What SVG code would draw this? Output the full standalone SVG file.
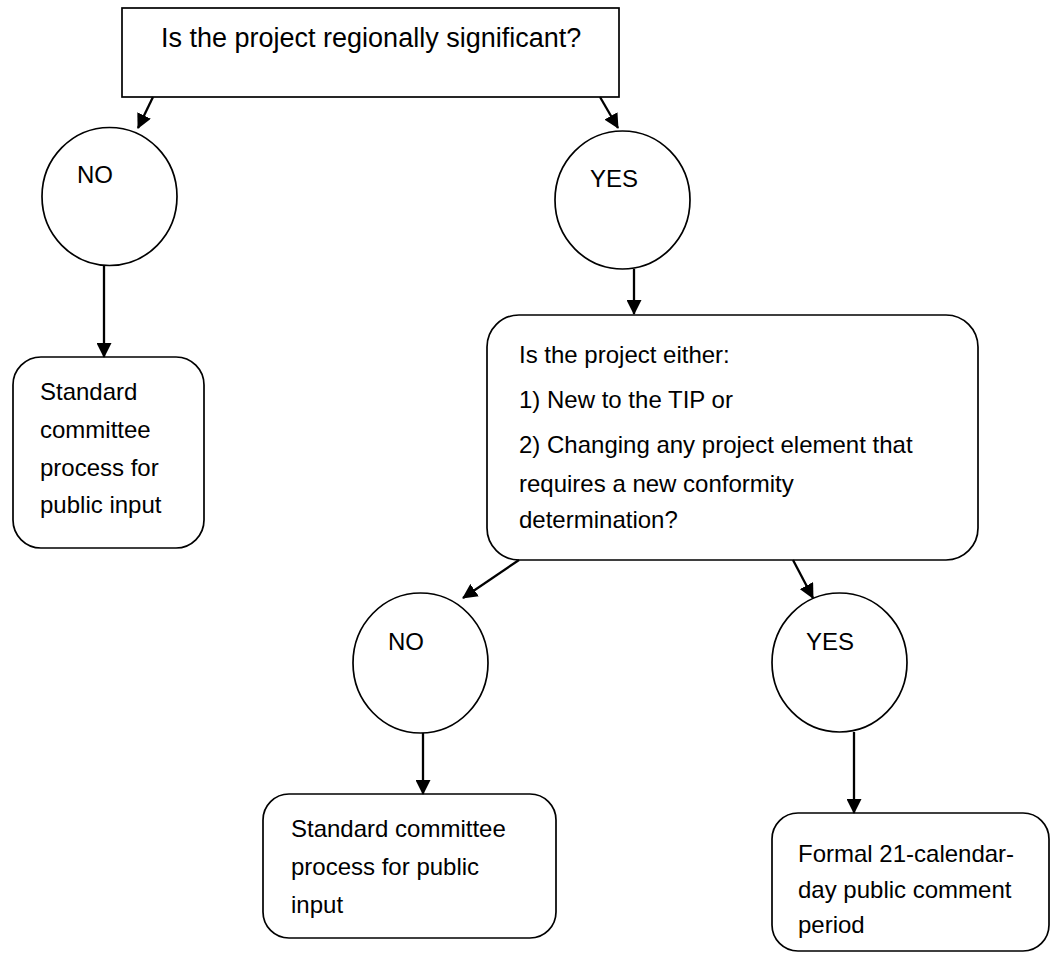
<svg xmlns="http://www.w3.org/2000/svg" width="1052" height="953" viewBox="0 0 1052 953">
<style>
.shape{fill:#fff;stroke:#000;stroke-width:1.7}
.t{font-family:"Liberation Sans",Arial,sans-serif;font-size:24px;fill:#000}
.title{font-size:27px}
.conn{stroke:#000;stroke-width:2.3;fill:none;marker-end:url(#arr)}
</style>
<defs>
<marker id="arr" markerUnits="userSpaceOnUse" markerWidth="15" markerHeight="15" refX="14" refY="7.5" orient="auto" viewBox="0 0 15 15">
<path d="M0,0 L15,7.5 L0,15 z" fill="#000"/>
</marker>
</defs>
<rect width="1052" height="953" fill="#fff"/>
<g id="q1">
<rect class="shape" x="122" y="8" width="497" height="89"/>
<text class="t title" x="161" y="47">Is the project regionally significant?</text>
</g>
<g id="no1">
<ellipse class="shape" cx="109.5" cy="196.5" rx="67.5" ry="69"/>
<text class="t" x="77" y="183">NO</text>
</g>
<g id="yes1">
<ellipse class="shape" cx="622.5" cy="200" rx="67.5" ry="69"/>
<text class="t" x="590" y="187">YES</text>
</g>
<g id="std1">
<rect class="shape" x="13" y="357" width="191" height="191" rx="28"/>
<text class="t" x="40" y="400">Standard</text>
<text class="t" x="40" y="438">committee</text>
<text class="t" x="40" y="476">process for</text>
<text class="t" x="40" y="513">public input</text>
</g>
<g id="q2">
<rect class="shape" x="487" y="315" width="491" height="245" rx="32"/>
<text class="t" x="519" y="363">Is the project either:</text>
<text class="t" x="519" y="408">1) New to the TIP or</text>
<text class="t" x="519" y="453">2) Changing any project element that</text>
<text class="t" x="519" y="492">requires a new conformity</text>
<text class="t" x="519" y="528">determination?</text>
</g>
<g id="no2">
<ellipse class="shape" cx="420.5" cy="663" rx="67.5" ry="70"/>
<text class="t" x="388" y="650">NO</text>
</g>
<g id="yes2">
<ellipse class="shape" cx="839.5" cy="662.5" rx="67.5" ry="69.5"/>
<text class="t" x="806" y="650">YES</text>
</g>
<g id="std2">
<rect class="shape" x="263" y="794" width="293" height="144" rx="26"/>
<text class="t" x="291" y="837">Standard committee</text>
<text class="t" x="291" y="875">process for public</text>
<text class="t" x="291" y="913">input</text>
</g>
<g id="formal">
<rect class="shape" x="772" y="813" width="277" height="138" rx="26"/>
<text class="t" x="798" y="862">Formal 21-calendar-</text>
<text class="t" x="798" y="898">day public comment</text>
<text class="t" x="798" y="933">period</text>
</g>
<g id="connectors">
<line class="conn" x1="153" y1="97" x2="138" y2="128"/>
<line class="conn" x1="600" y1="97" x2="618" y2="128"/>
<line class="conn" x1="104" y1="265" x2="104" y2="357"/>
<line class="conn" x1="634" y1="269" x2="634" y2="314"/>
<line class="conn" x1="519" y1="560" x2="463" y2="598"/>
<line class="conn" x1="793" y1="560" x2="813" y2="598"/>
<line class="conn" x1="423" y1="733" x2="423" y2="794"/>
<line class="conn" x1="854" y1="732" x2="854" y2="813"/>
</g>
</svg>
